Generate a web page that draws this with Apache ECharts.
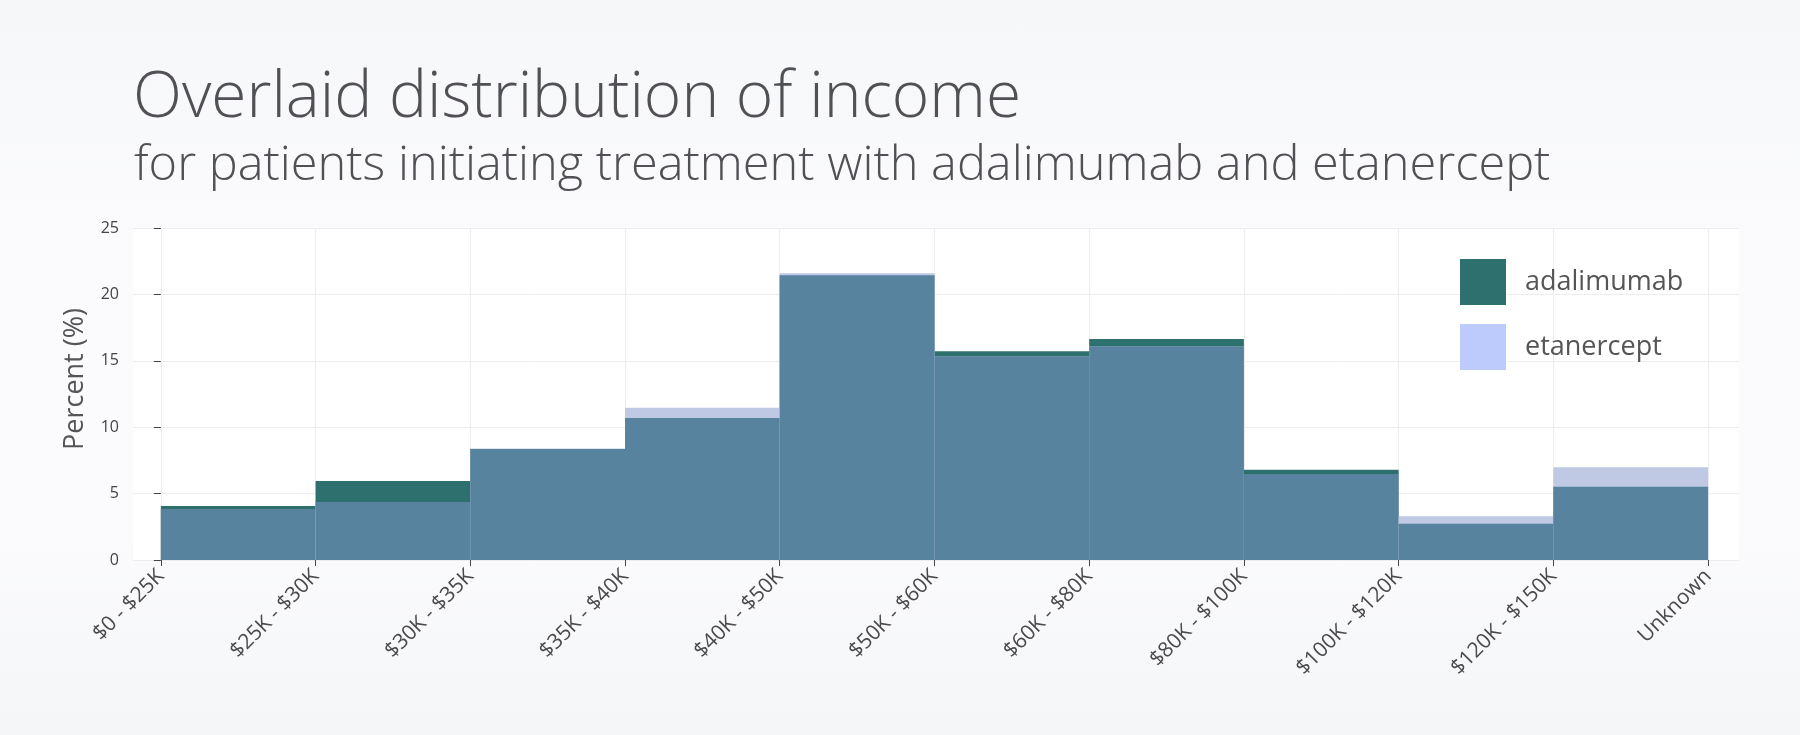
<!DOCTYPE html>
<html>
<head>
<meta charset="utf-8">
<title>Overlaid distribution of income</title>
<script src="https://cdn.jsdelivr.net/npm/echarts@6.0.0/dist/echarts.min.js"></script>
<style>
    html, body {
        margin: 0;
        padding: 0;
        width: 1800px;
        height: 735px;
        overflow: hidden;
        background: linear-gradient(180deg, #f6f7f9 0%, #fbfbfd 35%, #fbfbfd 70%, #f5f6f8 100%);
    }
    #main-chart {
        width: 1800px;
        height: 735px;
    }
</style>
</head>
<body>
<div id="main-chart"></div>
<script>
// income bins (tick labels sit on the bin edges)
var categories = ['$0 - $25K', '$25K - $30K', '$30K - $35K', '$35K - $40K', '$40K - $50K',
    '$50K - $60K', '$60K - $80K', '$80K - $100K', '$100K - $120K', '$120K - $150K', 'Unknown'];

// percent of patients per bin
var adalimumab = [4.07, 5.95, 8.35, 10.70, 21.45, 15.72, 16.65, 6.80, 2.73, 5.52];
var etanercept = [3.84, 4.37, 8.40, 11.46, 21.60, 15.32, 16.10, 6.48, 3.29, 6.98];

var tickPos = categories.map(function (c, i) { return i; });

var myChart = echarts.init(document.getElementById('main-chart'));

function binRect(api, i, v) {
    var p0 = api.coord([i, 0]);
    var p1 = api.coord([i + 1, v]);
    return { x: p0[0], y: p1[1], width: p1[0] - p0[0], height: p0[1] - p1[1] };
}

var option = {
    animation: false,
    textStyle: { fontFamily: 'Open Sans' },
    title: [
        {
            text: 'Overlaid distribution of income',
            left: 128,
            top: 62,
            textStyle: { fontSize: 64, fontWeight: 300, color: '#505055', lineHeight: 64, fontFamily: 'Open Sans' }
        },
        {
            text: 'for patients initiating treatment with adalimumab and etanercept',
            left: 129,
            top: 137,
            textStyle: { fontSize: 48.7, fontWeight: 300, color: '#505055', lineHeight: 48, fontFamily: 'Open Sans' }
        }
    ],
    legend: {
        left: 1455,
        top: 254,
        orient: 'vertical',
        itemWidth: 46,
        itemHeight: 46,
        itemGap: 19,
        icon: 'rect',
        textStyle: { fontSize: 27, color: '#555', padding: [0, 0, 0, 14], fontFamily: 'Open Sans' },
        data: ['adalimumab', 'etanercept']
    },
    grid: {
        left: 133,
        right: 61,
        top: 228,
        bottom: 175,
        show: true,
        backgroundColor: '#ffffff',
        borderWidth: 0
    },
    xAxis: {
        type: 'value',
        min: -0.18,
        max: 10.2,
        axisLine: { show: false },
        axisTick: {
            show: true, length: 6, customValues: tickPos,
            lineStyle: { color: '#444', width: 1 }
        },
        axisLabel: {
            customValues: tickPos,
            rotate: 45,
            margin: 13,
            fontSize: 21,
            color: '#4a4a4a',
            formatter: function (v) { return categories[Math.round(v)]; }
        },
        splitLine: {
            show: true, customValues: tickPos,
            lineStyle: { color: '#ededed', width: 1 }
        }
    },
    yAxis: {
        type: 'value',
        min: 0,
        max: 25,
        interval: 5,
        name: 'Percent (%)',
        nameLocation: 'middle',
        nameGap: 44,
        nameTextStyle: { fontSize: 27, color: '#555', padding: [0, 0, 0, 30], fontFamily: 'Open Sans' },
        axisLine: { show: false },
        axisTick: { show: true, length: 7, lineStyle: { color: '#444' } },
        axisLabel: { margin: 14, fontSize: 16, color: '#444' },
        splitLine: { lineStyle: { color: '#ededed', width: 1 } }
    },
    series: [
        {
            name: 'adalimumab',
            type: 'custom',
            itemStyle: { color: '#2e706e' },
            data: adalimumab.map(function (v, i) { return [i, v]; }),
            encode: { x: 0, y: 1 },
            renderItem: function (params, api) {
                return {
                    type: 'rect',
                    shape: binRect(api, api.value(0), api.value(1)),
                    style: { fill: '#2e706e' }
                };
            }
        },
        {
            name: 'etanercept',
            type: 'custom',
            itemStyle: { color: '#bccbfc' },
            data: etanercept.map(function (v, i) { return [i, v, Math.min(v, adalimumab[i])]; }),
            encode: { x: 0, y: 1 },
            renderItem: function (params, api) {
                var i = api.value(0);
                return {
                    type: 'group',
                    children: [
                        { type: 'rect', shape: binRect(api, i, api.value(1)), style: { fill: '#bfc9e4' } },
                        { type: 'rect', shape: binRect(api, i, api.value(2)), style: { fill: '#57839e' } }
                    ]
                };
            }
        }
    ]
};
myChart.setOption(option);
</script>
</body>
</html>
